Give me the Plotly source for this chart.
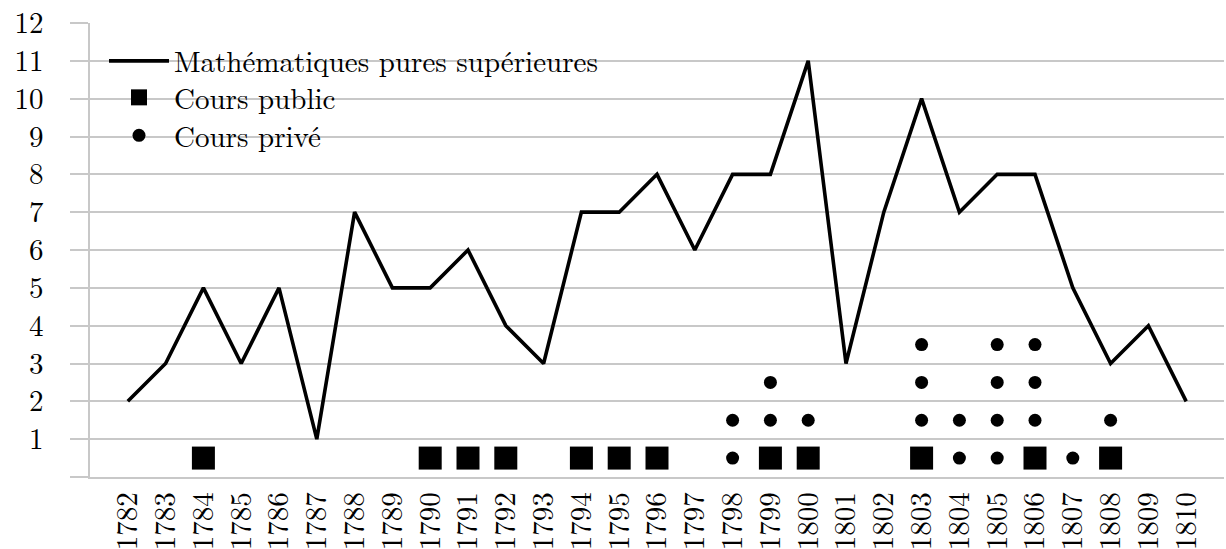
import plotly.graph_objects as go

years = list(range(1782, 1811))
math_sup = [2, 3, 5, 3, 5, 1, 7, 5, 5, 6, 4, 3, 7, 7, 8, 6, 8, 8, 11, 3, 7, 10, 7, 8, 8, 5, 3, 4, 2]

public_years = [1784, 1790, 1791, 1792, 1794, 1795, 1796, 1799, 1800, 1803, 1806, 1808]
public_levels = [0.5] * len(public_years)

prive_years = [1798, 1798, 1799, 1799, 1800, 1803, 1803, 1803, 1804, 1804,
               1805, 1805, 1805, 1805, 1806, 1806, 1806, 1807, 1808]
prive_levels = [0.5, 1.5, 1.5, 2.5, 1.5, 1.5, 2.5, 3.5, 0.5, 1.5,
                0.5, 1.5, 2.5, 3.5, 1.5, 2.5, 3.5, 0.5, 1.5]

tick_labels = [str(y) for y in years]
y_tickvals = list(range(0, 13))
y_ticktext = [""] + [str(v) for v in range(1, 13)]

FONT = "Latin Modern Roman, Liberation Serif, serif"
GRID = "#c8c8c8"
W, H = 1226, 549
ML, MR, MT, MB = 90, 2, 23, 72


def px_x(p):
    return (p - ML) / (W - ML - MR)


def px_y(p):
    return (H - MB - p) / (H - MT - MB)


fig = go.Figure()
fig.add_trace(go.Scatter(x=years, y=math_sup, mode="lines",
                         line=dict(color="black", width=3.6),
                         name="Mathématiques pures supérieures", legend="legend"))
fig.add_trace(go.Scatter(x=public_years, y=public_levels, mode="markers",
                         marker=dict(symbol="square", size=23, color="black"),
                         name="Cours public", legend="legend2"))
fig.add_trace(go.Scatter(x=prive_years, y=prive_levels, mode="markers",
                         marker=dict(symbol="circle", size=13, color="black"),
                         name="Cours privé", legend="legend3"))

shapes = []
for (x0, x1, yc) in [(170, 612, 61), (170, 349, 99), (170, 334, 137)]:
    shapes.append(dict(type="rect", xref="paper", yref="paper",
                       x0=px_x(x0), x1=px_x(x1), y0=px_y(yc + 16), y1=px_y(yc - 16),
                       fillcolor="white", line=dict(width=0), layer="between"))


def leg(row_y):
    return dict(x=px_x(104), y=px_y(row_y), xanchor="left", yanchor="middle",
                bgcolor="rgba(0,0,0,0)", font=dict(family=FONT, size=29, color="black"),
                itemwidth=60)


fig.update_layout(
    width=W, height=H,
    margin=dict(l=ML, r=MR, t=MT, b=MB, autoexpand=False),
    plot_bgcolor="white", paper_bgcolor="white",
    font=dict(family=FONT, size=29, color="black"),
    showlegend=True,
    legend=leg(61), legend2=leg(97.5), legend3=leg(135.5),
    shapes=shapes,
    xaxis=dict(range=[1781, 1811], tickmode="array", tickvals=years, ticktext=tick_labels,
               tickangle=-90, showgrid=False, zeroline=False, automargin=False,
               showline=True, linecolor=GRID, linewidth=1.5, ticks="",
               ticklabelstandoff=2,
               tickfont=dict(family=FONT, size=29, color="black")),
    yaxis=dict(range=[0, 12], tickmode="array", tickvals=y_tickvals, ticktext=y_ticktext,
               automargin=False,
               showgrid=True, gridcolor=GRID, gridwidth=1.5, zeroline=False,
               showline=True, linecolor=GRID, linewidth=1.5,
               ticks="outside", ticklen=18, tickcolor=GRID, tickwidth=1.5,
               ticklabelstandoff=21,
               tickfont=dict(family=FONT, size=29, color="black")),
)

fig.write_html("out.html", config={"displayModeBar": False},
               post_script="document.body.style.margin='0px';")
